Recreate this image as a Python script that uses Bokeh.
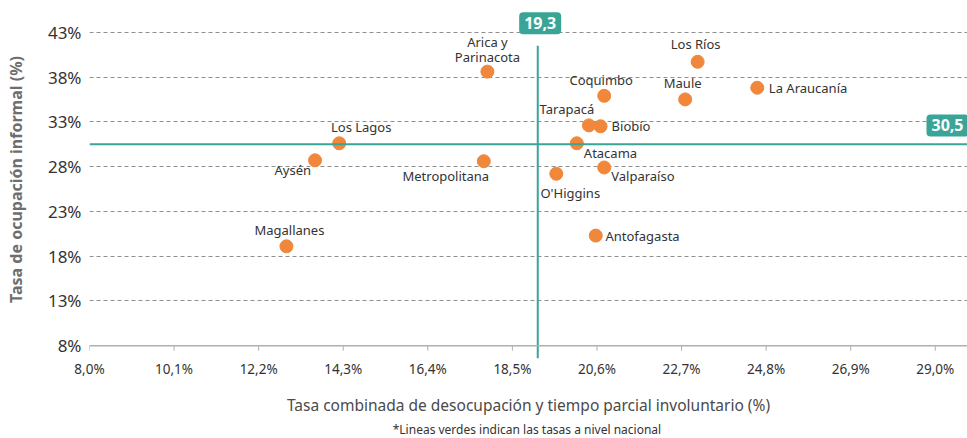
from bokeh.plotting import figure
from bokeh.models import ColumnDataSource, Span, Label, Title, FixedTicker, CustomJSTickFormatter
from bokeh.embed import file_html
from bokeh.resources import INLINE
from bokeh.core.properties import value

# ---- data ----
regions = ["Magallanes", "Aysén", "Los Lagos", "Metropolitana", "Arica y\nParinacota",
           "Coquimbo", "Tarapacá", "Biobío", "Atacama", "O'Higgins", "Valparaíso",
           "Los Ríos", "Maule", "La Araucanía", "Antofagasta"]
desocupacion = [12.89, 13.60, 14.20, 17.79, 17.88, 20.78, 20.40, 20.69, 20.10, 19.59,
                20.78, 23.10, 22.79, 24.58, 20.57]
informalidad = [19.1, 28.7, 30.6, 28.6, 38.6, 35.9, 32.6, 32.5, 30.6, 27.2,
                27.9, 39.7, 35.5, 36.8, 20.3]
x_ticks = [8.0, 10.1, 12.2, 14.3, 16.4, 18.5, 20.6, 22.7, 24.8, 26.9, 29.0]
y_ticks = [8, 13, 18, 23, 28, 33, 38, 43]
nacional_x_label = "19,3"
nacional_x_pos = 19.13
nacional_y_label = "30,5"
nacional_y = 30.5

# label placement (screen px, y down positive) and alignment
lab_dx = [3, -4, 22, -38, 0, -3, -22, 11, 7, 14, 7, -2, -2.5, 11.6, 9.7]
lab_dy = [-16.4, 10, -16, 15, -22, -16.3, -16.3, 0, 10, 19, 8.4, -18, -16.7, 0, 0.7]
lab_align = ["center", "right", "center", "center", "center", "center", "center",
             "left", "left", "center", "left", "center", "center", "left", "left"]

FONT = "Noto Sans"
TEAL = "#3aa597"
ORANGE = "#f0873a"
AXIS_GREY = "#b0b0b0"

Y0, Y1 = 6.58, 46.54   # frame extends slightly below the 8% baseline
X0, X1 = 8.0, 29.80
PX_PER_Y = 358 / (Y1 - Y0)
PX_PER_X = (967 - 89) / (X1 - X0)

src = ColumnDataSource(dict(x=desocupacion, y=informalidad, name=regions,
                            dx=lab_dx, dy=lab_dy, align=lab_align))

p = figure(width=967, height=438, output_backend="svg", toolbar_location=None,
           x_range=(X0, X1), y_range=(Y0, Y1),
           min_border_left=89, min_border_right=0, min_border_top=0, min_border_bottom=80)
p.outline_line_color = None
p.background_fill_color = "white"
p.border_fill_color = "white"

# axes
p.xaxis.ticker = FixedTicker(ticks=x_ticks)
p.xaxis.formatter = CustomJSTickFormatter(code="return tick.toFixed(1).replace('.', ',') + '%';")
p.yaxis.ticker = FixedTicker(ticks=y_ticks)
p.yaxis.formatter = CustomJSTickFormatter(code="return tick.toFixed(0) + '%';")

p.xaxis.axis_line_color = None
p.xaxis.major_tick_line_color = None
p.xaxis.minor_tick_line_color = None
p.xaxis.major_tick_out = 0
p.xaxis.major_tick_in = 0
p.xaxis.minor_tick_out = 0
p.xaxis.minor_tick_in = 0
p.xaxis.major_label_standoff = 1
p.xaxis.major_label_text_font = FONT
p.xaxis.major_label_text_font_size = "13.5px"
p.xaxis.major_label_text_color = "#333333"
p.xaxis.axis_label = "Tasa combinada de desocupación y tiempo parcial involuntario (%)"
p.xaxis.axis_label_text_font = FONT
p.xaxis.axis_label_text_font_size = "15.5px"
p.xaxis.axis_label_text_font_style = "normal"
p.xaxis.axis_label_text_color = "#4a4a4a"
p.xaxis.axis_label_standoff = 13

p.yaxis.axis_line_color = None
p.yaxis.major_tick_line_color = None
p.yaxis.minor_tick_line_color = None
p.yaxis.major_tick_out = 0
p.yaxis.major_tick_in = 0
p.yaxis.major_label_standoff = 8
p.yaxis.major_label_text_font = FONT
p.yaxis.major_label_text_font_size = "17px"
p.yaxis.major_label_text_color = "#333333"
p.yaxis.axis_label = "Tasa de ocupación informal (%)"
p.yaxis.axis_label_text_font = FONT
p.yaxis.axis_label_text_font_size = "16px"
p.yaxis.axis_label_text_font_style = "bold"
p.yaxis.axis_label_text_color = "#6e6e6e"
p.yaxis.axis_label_standoff = 18

p.xgrid.grid_line_color = None
p.ygrid.grid_line_color = "#8f8f8f"
p.ygrid.grid_line_dash = "4 3"
p.ygrid.grid_line_width = 1

# baseline axis line at 8% with small downward ticks
base = y_ticks[0]
p.add_layout(Span(location=base, dimension="width", line_color=AXIS_GREY, line_width=1.5))
p.segment(x0=x_ticks, y0=[base] * len(x_ticks), x1=x_ticks,
          y1=[base - 5 / PX_PER_Y] * len(x_ticks), line_color=AXIS_GREY, line_width=1)

# national reference lines
p.add_layout(Span(location=nacional_y, dimension="width", line_color=TEAL, line_width=2))
p.segment(x0=[nacional_x_pos], y0=[41.5], x1=[nacional_x_pos], y1=[Y0],
          line_color=TEAL, line_width=2)

p.add_layout(Label(x=19.19, y=44.0, text=nacional_x_label, text_align="center",
                   text_baseline="middle", text_color="white", text_font=FONT,
                   text_font_size="16px", text_font_style="bold",
                   background_fill_color=TEAL, padding=5, border_radius=4))
p.add_layout(Label(x=X0 + (926 - 89) / PX_PER_X, y=32.59,
                   text=nacional_y_label, text_align="left",
                   text_baseline="middle", text_color="white", text_font=FONT,
                   text_font_size="16px", text_font_style="bold",
                   background_fill_color=TEAL, padding=5, border_radius=4))

# points
p.scatter("x", "y", source=src, size=13, fill_color=ORANGE, line_color=ORANGE)

# labels
p.text("x", "y", text="name", source=src, x_offset="dx", y_offset="dy",
       text_align="align", text_baseline="middle", text_font=value(FONT),
       text_font_size="13px", text_color="#333333", text_line_height=0.85)

# footnote
p.add_layout(Title(text="*Lineas verdes indican las  tasas a nivel nacional",
                   align="center", text_font=FONT, text_font_size="12px",
                   text_font_style="normal", text_color="#333333", standoff=0),
             "below")

open("out.html", "w").write(file_html(p, INLINE))
